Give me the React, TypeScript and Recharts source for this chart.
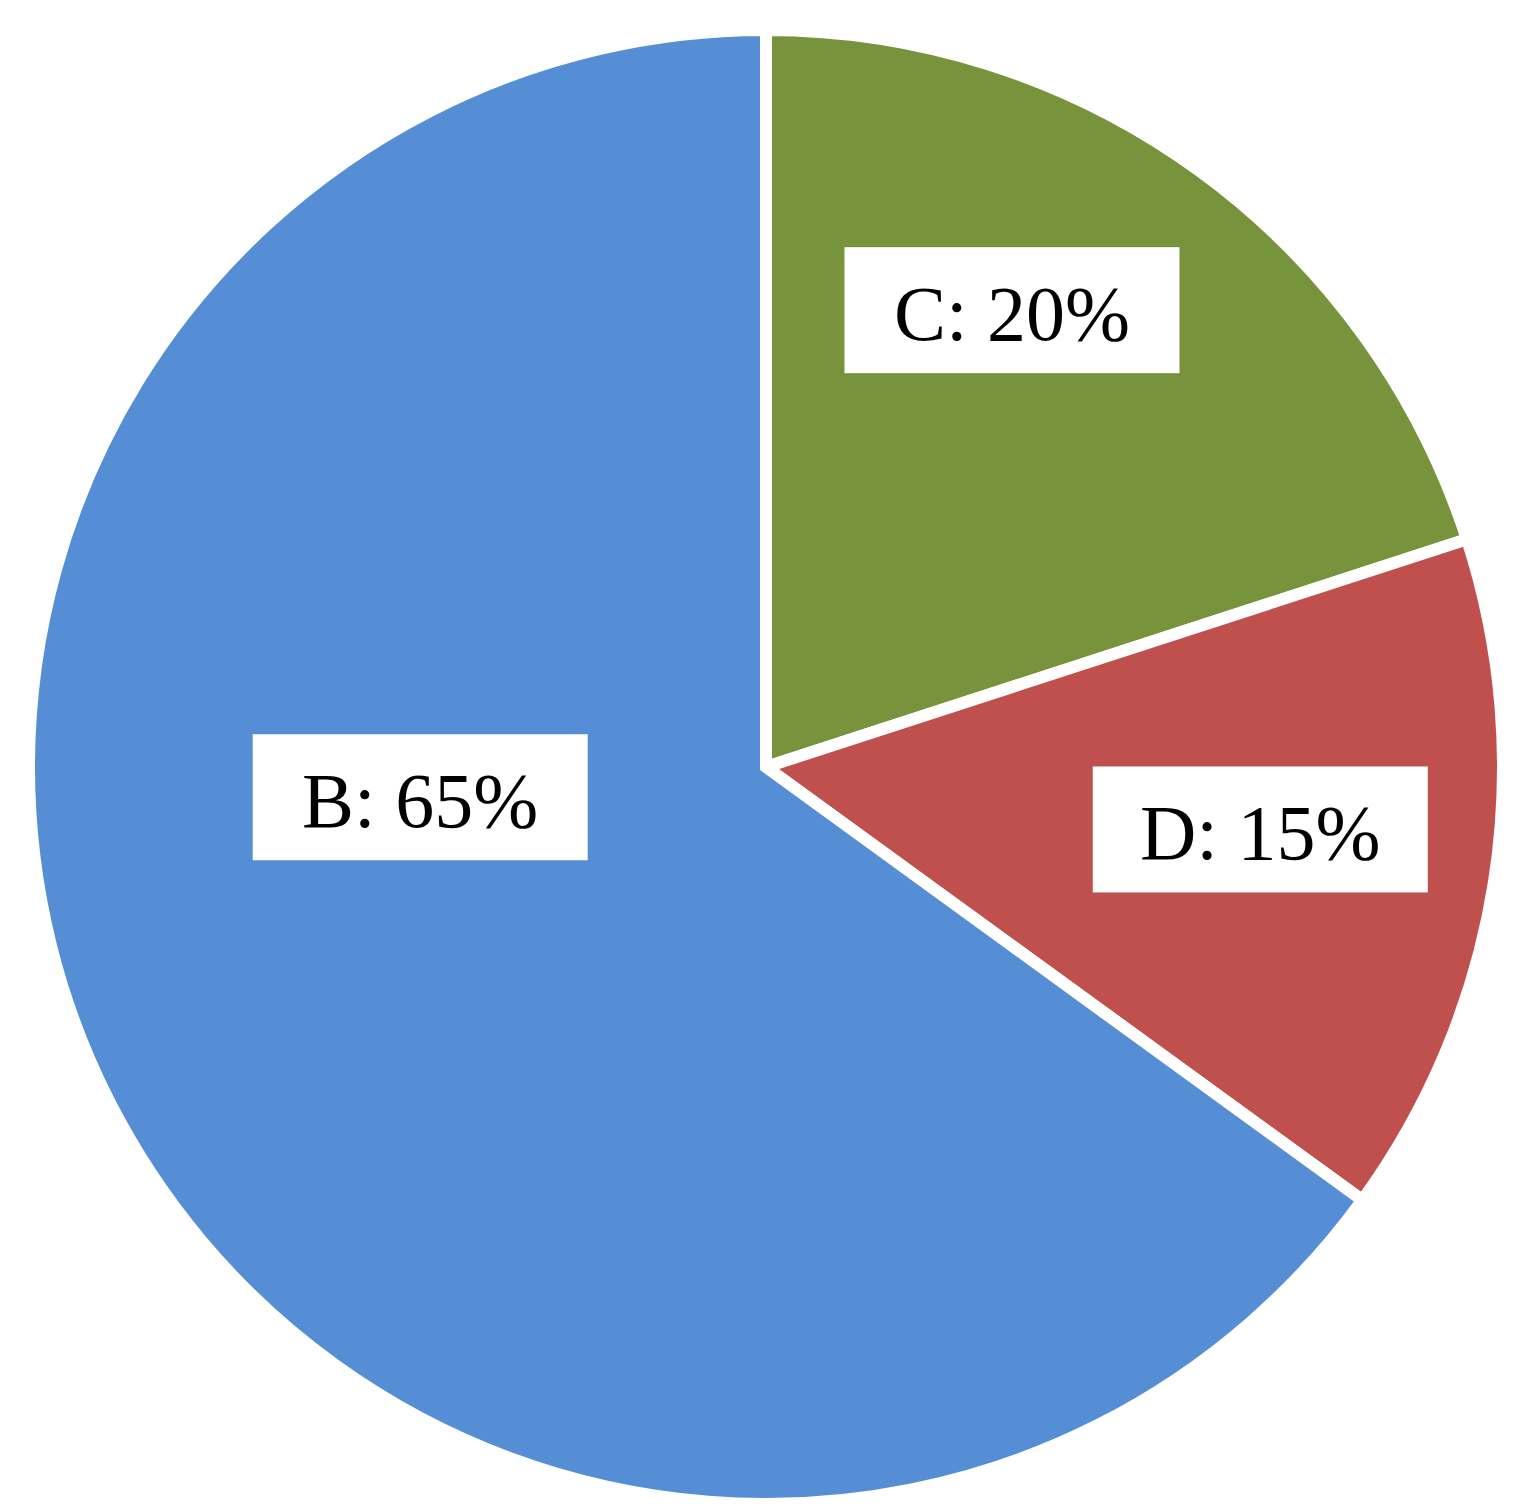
import { PieChart, Pie, Cell } from 'recharts';

const categories = ['C', 'D', 'B'];
const shares = [20, 15, 65];
const sliceColors = ['#77933C', '#C0504D', '#558ED5'];

// where each data label sits: fraction of the radius + angle nudge from the slice middle (deg)
const labelRadius = [0.704, 0.676, 0.471];
const labelAngleNudge = [7.7, 1.8, -22];

const data = categories.map((name, i) => ({ name, value: shares[i] }));

const RAD = Math.PI / 180;
const BOX_W = 335;
const BOX_H = 126;

function renderLabel(props: any) {
  const { cx, cy, midAngle, outerRadius, index } = props;
  const r = outerRadius * labelRadius[index];
  const a = midAngle + labelAngleNudge[index];
  const x = cx + Math.cos(-a * RAD) * r;
  const y = cy + Math.sin(-a * RAD) * r;
  return (
    <g key={`lbl-${index}`}>
      <rect x={x - BOX_W / 2} y={y - BOX_H / 2} width={BOX_W} height={BOX_H} fill="#ffffff" />
      <text
        x={x}
        y={y + 30}
        textAnchor="middle"
        fontFamily='"Liberation Serif", "Times New Roman", serif'
        fontSize={78}
        fill="#000000"
      >
        {`${categories[index]}: ${shares[index]}%`}
      </text>
    </g>
  );
}

export default function App() {
  return (
    <div style={{ position: 'absolute', left: 0, top: 0, width: 1532, height: 1511, background: '#ffffff' }}>
      <PieChart width={1532} height={1511}>
        <Pie
          data={data}
          dataKey="value"
          nameKey="name"
          cx={761}
          cy={762}
          outerRadius={737}
          startAngle={90}
          endAngle={-270}
          stroke="#ffffff"
          strokeWidth={12}
          label={renderLabel}
          labelLine={false}
          isAnimationActive={false}
        >
          {data.map((d, i) => (
            <Cell key={d.name} fill={sliceColors[i]} />
          ))}
        </Pie>
      </PieChart>
    </div>
  );
}
